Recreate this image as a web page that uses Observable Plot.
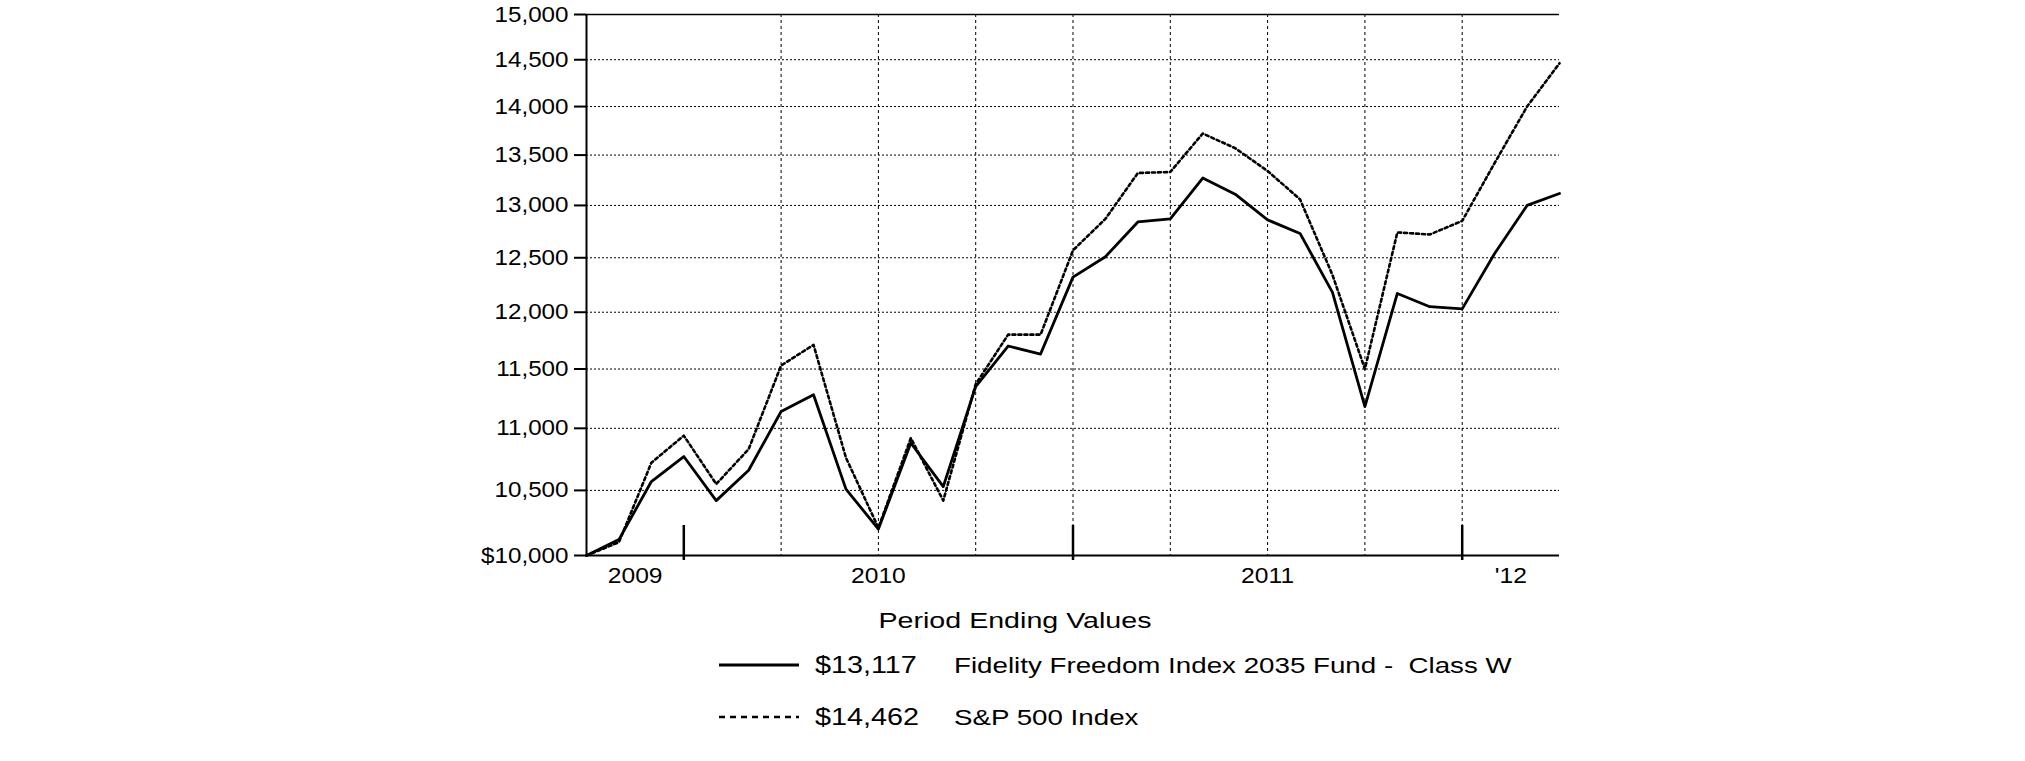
<!DOCTYPE html>
<html><head><meta charset="utf-8">
<script src="https://cdn.jsdelivr.net/npm/d3@7"></script>
<script src="https://cdn.jsdelivr.net/npm/@observablehq/plot@0.6"></script>
<style>
html,body{margin:0;padding:0;background:#fff;}
#chart svg,#legend svg{display:block;}
#legend text{white-space:pre;}
</style></head><body>
<div id="chart"></div>
<div id="legend"></div>
<script>
// ---- data ----
const periods = ["2009-10-02","2009-10","2009-11","2009-12",
  "2010-01","2010-02","2010-03","2010-04","2010-05","2010-06","2010-07","2010-08","2010-09","2010-10","2010-11","2010-12",
  "2011-01","2011-02","2011-03","2011-04","2011-05","2011-06","2011-07","2011-08","2011-09","2011-10","2011-11","2011-12",
  "2012-01","2012-02","2012-03"];
const fundValues = [10000,10120,10570,10770,
  10420,10660,11140,11280,10510,10200,10880,10530,11350,11700,11630,12320,
  12510,12840,12870,13270,13110,12860,12730,12180,11180,12170,12050,12030,
  12540,13000,13117];
const spValues = [10000,10100,10720,10940,
  10550,10830,11530,11710,10760,10210,10920,10420,11370,11800,11800,12570,
  12870,13320,13330,13720,13570,13340,13060,12340,11500,12740,12720,12850,
  13420,14000,14462];
const yTicks = [10000,10500,11000,11500,12000,12500,13000,13500,14000,14500,15000];
const quarterGrid = ["2010-03","2010-06","2010-09","2010-12","2011-03","2011-06","2011-09","2011-12"];
const yearEnds = ["2009-12","2010-12","2011-12"];
const yearLabels = ["2009","2010","2011","'12"];
const legendTitle = "Period Ending Values";
const legendValues = ["$13,117","$14,462"];
const legendNames = ["Fidelity Freedom Index 2035 Fund -  Class W","S&P 500 Index"];

// ---- derived tables ----
const idx = p => periods.indexOf(p);
const rows = periods.map((p, i) => ({i, p, fund: fundValues[i], sp: spValues[i]}));
const bounds = [0, ...yearEnds.map(idx), periods.length - 1];
const yearRows = yearLabels.map((t, k) => ({x: (bounds[k] + bounds[k + 1]) / 2, t}));

const W = 2025, H = 595;
const FONT = "'Liberation Sans', Arial, Helvetica, sans-serif";

const chart = Plot.plot({
  width: W, height: H,
  marginLeft: 586, marginRight: 466, marginTop: 14, marginBottom: 40,
  style: {fontFamily: FONT, background: "#fff", color: "#000", overflow: "visible"},
  x: {type: "linear", domain: [0, periods.length - 1], axis: null},
  y: {type: "log", domain: [10000, 15000]},
  marks: [
    Plot.ruleY(yTicks.slice(1, -1), {stroke: "#000", strokeWidth: 1, strokeDasharray: "2,2"}),
    Plot.ruleX(quarterGrid.map(idx), {stroke: "#000", strokeWidth: 1, strokeDasharray: "3,3"}),
    Plot.ruleY([15000], {stroke: "#000", strokeWidth: 1.5}),
    Plot.ruleY([10000], {stroke: "#000", strokeWidth: 2}),
    Plot.ruleX([0], {stroke: "#000", strokeWidth: 2}),
    Plot.ruleX(yearEnds.map(idx), {stroke: "#000", strokeWidth: 2.5, insetTop: 511, insetBottom: -5}),
    Plot.axisY({ticks: yTicks, tickSize: 12, tickPadding: 6, fontSize: 22, strokeWidth: 2,
      tickFormat: d => (d === yTicks[0] ? "$" : "") + d3.format(",")(d), label: null}),
    Plot.line(rows, {x: "i", y: "sp", stroke: "#000", strokeWidth: 2.6, strokeDasharray: "3,3"}),
    Plot.line(rows, {x: "i", y: "fund", stroke: "#000", strokeWidth: 2.8}),
    Plot.text(yearRows, {x: "x", text: "t", frameAnchor: "bottom", dy: 20, fontSize: 22, lineAnchor: "middle", fill: "#000"})
  ]
});
document.getElementById("chart").appendChild(chart);

function stretch(nodes, factor) {
  nodes.forEach(t => {
    const len = t.getComputedTextLength();
    t.setAttribute("textLength", (len * factor).toFixed(1));
    t.setAttribute("lengthAdjust", "spacingAndGlyphs");
  });
}
stretch(chart.querySelectorAll('g[aria-label="y-axis tick label"] text'), 1.1);
stretch(chart.querySelectorAll('g[aria-label="text"] text'), 1.12);

// ---- legend ----
const LH = 761 - H;
const L = d3.select("#legend").append("svg")
  .attr("width", W).attr("height", LH)
  .style("font-family", FONT);
L.append("text").attr("x", 1015).attr("y", 25).attr("dy", "0.35em")
  .attr("text-anchor", "middle").attr("font-size", 22).text(legendTitle);
const rowY = [70, 122];
const dash = [null, "6,5"];
const lw = [3, 2.5];
legendNames.forEach((name, k) => {
  L.append("line").attr("x1", 719).attr("x2", 799).attr("y1", rowY[k]).attr("y2", rowY[k])
    .attr("stroke", "#000").attr("stroke-width", lw[k]).attr("stroke-dasharray", dash[k]);
  L.append("text").attr("class", "val").attr("x", 815).attr("y", rowY[k]).attr("dy", "0.35em")
    .attr("font-size", 23).text(legendValues[k]);
  L.append("text").attr("class", "nm").attr("x", 954).attr("y", rowY[k]).attr("dy", "0.35em")
    .attr("font-size", 22).attr("xml:space", "preserve").text(name);
});
const Ln = L.node();
stretch(Ln.querySelectorAll("text:not(.val):not(.nm)"), 1.3);
stretch(Ln.querySelectorAll("text.val"), 1.25);
stretch(Ln.querySelectorAll("text.nm"), 1.26);
</script>
</body></html>
